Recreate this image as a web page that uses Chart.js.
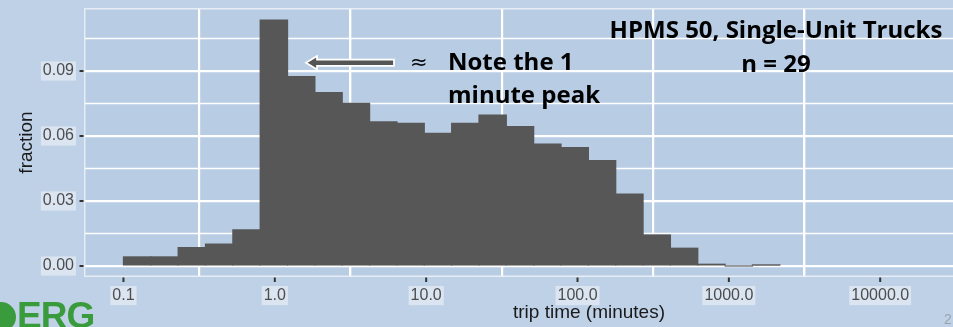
<!DOCTYPE html>
<html>
<head>
<meta charset="utf-8">
<script src="https://cdn.jsdelivr.net/npm/chart.js@4/dist/chart.umd.min.js"></script>
<style>
  html, body { margin: 0; padding: 0; overflow: hidden; background: #bfd1e7; }
  #stage { position: relative; width: 953px; height: 327px; overflow: hidden; background: #bfd1e7; }
  #plot { position: absolute; left: 0; top: 0; }
  .note { position: absolute; font-family: "Open Sans", Lato, sans-serif; font-weight: 700;
          font-size: 24px; color: #000; white-space: nowrap; line-height: 34px; }
  #hpms { left: 576px; width: 400px; top: 12px; text-align: center; }
  #peak { left: 448px; top: 44px; line-height: 33px; }
  #approx { position: absolute; left: 410px; top: 48px; font-family: "DejaVu Sans", sans-serif;
            font-size: 21px; line-height: 28px; color: #000; }
  #arrow { position: absolute; left: 0; top: 0; }
  #logo { position: absolute; left: 17px; top: 296px; font-family: "Liberation Sans", Arial, sans-serif;
          font-weight: 700; font-size: 37px; line-height: 40px; color: #3a9b3c; letter-spacing: -1px; }
  #leaf { position: absolute; left: -14px; top: 302px; width: 30px; height: 30px; border-radius: 50%;
          background: #3a9b3c; }
  #page { position: absolute; left: 944px; top: 311px; font-family: "Liberation Sans", Arial, sans-serif;
          font-size: 14px; color: #9aa3ad; }
</style>
</head>
<body>
<div id="stage">
  <canvas id="plot" width="1100" height="327"></canvas>
  <svg id="arrow" width="953" height="327" viewBox="0 0 953 327">
    <polygon points="306,62.7 317,56 317,59.6 394,59.6 394,65.8 317,65.8 317,69.4"
             fill="#555555" stroke="#ffffff" stroke-width="1.8" stroke-linejoin="miter"/>
  </svg>
  <div id="approx">≈</div>
  <div class="note" id="peak">Note the 1<br>minute peak</div>
  <div class="note" id="hpms">HPMS 50, Single-Unit Trucks<br>n = 29</div>
  <div id="leaf"></div>
  <div id="logo">ERG</div>
  <div id="page">2</div>
</div>
<script>
// Histogram bins on a log10(minutes) axis: lower/upper edges and the fraction in each bin.
const binEdgesLog10 = [
  -1.0000, -0.8193, -0.6386, -0.4579, -0.2772, -0.0965, 0.0842, 0.2649, 0.4456,
   0.6263,  0.8070,  0.9877,  1.1684,  1.3491,  1.5298, 1.7105, 1.8912, 2.0719,
   2.2526,  2.4333,  2.6140,  2.7947,  2.9754,  3.1561, 3.3368
];
const fractions = [
  0.0042, 0.0042, 0.0085, 0.0101, 0.0167, 0.1135, 0.0874, 0.0800, 0.0751,
  0.0665, 0.0658, 0.0612, 0.0658, 0.0697, 0.0643, 0.0563, 0.0546, 0.0486,
  0.0332, 0.0143, 0.0082, 0.0008, 0.0000, 0.0004
];

// Axis breaks (x in log10 minutes); minor breaks get thinner grid lines only
const xMajorTicks = [-1, 0, 1, 2, 3, 4];
const xTickLabels = ['0.1', '1.0', '10.0', '100.0', '1000.0', '10000.0'];
const xMinorTicks = [-0.5, 0.5, 1.5, 2.5, 3.5, 4.5];
const yMajorTicks = [0, 0.03, 0.06, 0.09];
const yTickLabels = ['0.00', '0.03', '0.06', '0.09'];
const yMinorTicks = [0.015, 0.045, 0.075, 0.105];

const points = fractions.map((f, i) => ({
  x: (binEdgesLog10[i] + binEdgesLog10[i + 1]) / 2,
  y: f
}));

// ggplot-like panel: tinted background, minor grid, light frame and dark tick marks
const panel = {
  id: 'panel',
  beforeDraw(chart) {
    const { ctx, chartArea: a } = chart;
    ctx.save();
    ctx.fillStyle = '#b8cce4';
    ctx.fillRect(a.left, a.top, a.right - a.left, a.bottom - a.top);
    ctx.restore();
  },
  beforeDatasetsDraw(chart) {
    const { ctx, chartArea: a, scales } = chart;
    ctx.save();
    ctx.strokeStyle = '#ffffff';
    ctx.lineWidth = 1.4;
    ctx.beginPath();
    xMinorTicks.forEach(v => {
      const px = scales.x.getPixelForValue(v);
      ctx.moveTo(px, a.top);
      ctx.lineTo(px, a.bottom);
    });
    yMinorTicks.forEach(v => {
      const py = scales.y.getPixelForValue(v);
      ctx.moveTo(a.left, py);
      ctx.lineTo(a.right, py);
    });
    ctx.stroke();
    ctx.restore();
  },
  afterDraw(chart) {
    const { ctx, chartArea: a, scales } = chart;
    ctx.save();
    ctx.strokeStyle = 'rgba(232,238,245,0.95)';
    ctx.lineWidth = 1.5;
    ctx.strokeRect(a.left + 0.75, a.top + 0.75, a.right - a.left - 1.5, a.bottom - a.top - 1.5);
    ctx.strokeStyle = '#333333';
    ctx.lineWidth = 2;
    ctx.beginPath();
    xMajorTicks.forEach(v => {
      const px = scales.x.getPixelForValue(v);
      ctx.moveTo(px, a.bottom + 0.5);
      ctx.lineTo(px, a.bottom + 5);
    });
    yMajorTicks.forEach(v => {
      const py = scales.y.getPixelForValue(v);
      ctx.moveTo(a.left - 0.5, py);
      ctx.lineTo(a.left - 4.5, py);
    });
    ctx.stroke();
    ctx.restore();
  }
};

const tickFont = { family: "'Liberation Sans', Arial, sans-serif", size: 16 };
const titleFont = { family: "'Liberation Sans', Arial, sans-serif", size: 19 };

function axisTicks(labels, pad) {
  return {
    autoSkip: false,
    maxRotation: 0,
    padding: pad,
    color: '#4d4d4d',
    font: tickFont,
    showLabelBackdrop: true,
    backdropColor: 'rgba(220,230,241,0.95)',
    backdropPadding: { left: 2, right: 2, top: 0, bottom: 0 },
    callback: (v, i) => labels[i]
  };
}

const grid = { color: '#ffffff', lineWidth: 2.2, drawTicks: false };

new Chart(document.getElementById('plot'), {
  type: 'bar',
  data: {
    datasets: [{
      data: points,
      backgroundColor: '#575757',
      borderWidth: 0,
      inflateAmount: 0.6,
      barPercentage: 1,
      categoryPercentage: 1
    }]
  },
  options: {
    responsive: false,
    animation: false,
    devicePixelRatio: 1,
    layout: { padding: { top: 8, right: 6, bottom: 0, left: 0 } },
    plugins: { legend: { display: false }, tooltip: { enabled: false } },
    scales: {
      x: {
        type: 'linear',
        offset: false,
        min: -1.2607,
        max: 5.4126,
        afterBuildTicks: s => { s.ticks = xMajorTicks.map(v => ({ value: v })); },
        afterFit: s => { s.height = 50; s.paddingLeft = 0; s.paddingRight = 0; },
        border: { display: false },
        grid: grid,
        ticks: axisTicks(xTickLabels, 9),
        title: {
          display: true,
          text: 'trip time (minutes)',
          color: '#1a1a1a',
          font: titleFont,
          padding: { top: 0, bottom: 3 }
        }
      },
      y: {
        min: -0.00508,
        max: 0.1191,
        afterBuildTicks: s => { s.ticks = yMajorTicks.map(v => ({ value: v })); },
        afterFit: s => { s.width = 84; s.paddingTop = 0; s.paddingBottom = 0; },
        border: { display: false },
        grid: grid,
        ticks: axisTicks(yTickLabels, 10),
        title: {
          display: true,
          text: 'fraction',
          color: '#1a1a1a',
          font: titleFont,
          padding: { top: 15, bottom: 0 }
        }
      }
    }
  },
  plugins: [panel]
});
</script>
</body>
</html>
